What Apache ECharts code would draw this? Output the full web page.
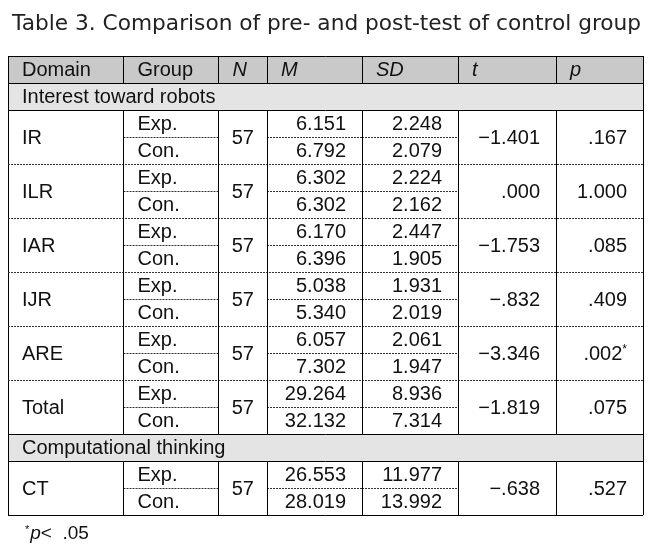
<!DOCTYPE html>
<html><head><meta charset="utf-8">
<script src="https://cdn.jsdelivr.net/npm/echarts@6/dist/echarts.min.js"></script>
<style>html,body{margin:0;padding:0;background:#fff}#c{width:660px;height:548px}</style>
</head><body><div id="c"></div>
<script>
// ---- data ----
const title = 'Table 3. Comparison of pre- and post-test of control group';
const headers = ['Domain', 'Group', 'N', 'M', 'SD', 't', 'p'];
const sections = ['Interest toward robots', 'Computational thinking'];
const domains = ['IR', 'ILR', 'IAR', 'IJR', 'ARE', 'Total', 'CT'];
const domainSection = [0, 0, 0, 0, 0, 0, 1];
const groups = ['Exp.', 'Con.'];
const nValues = [57, 57, 57, 57, 57, 57, 57];
const meanExp = [6.151, 6.302, 6.170, 5.038, 6.057, 29.264, 26.553];
const meanCon = [6.792, 6.302, 6.396, 5.340, 7.302, 32.132, 28.019];
const sdExp = [2.248, 2.224, 2.447, 1.931, 2.061, 8.936, 11.977];
const sdCon = [2.079, 2.162, 1.905, 2.019, 1.947, 7.314, 13.992];
const tValues = [-1.401, 0.000, -1.753, -0.832, -3.346, -1.819, -0.638];
const pValues = [0.167, 1.000, 0.085, 0.409, 0.002, 0.075, 0.527];
const alpha = 0.05;
const footnoteMark = '*';
const footnoteP = 'p';
const footnoteRest = '<  .05';

// ---- layout (table-width units along x, row units along y) ----
const colEdges = [0, 115.5, 210.5, 259, 354, 450, 548, 635];
const FONT = 'Liberation Sans';
const FS = 20;
const HEAD_FILL = '#c9c9c9';
const SEC_FILL = '#e4e4e4';

function fmt3(v) {
  const a = Math.abs(v).toFixed(3).replace(/^0\./, '.');
  return (v < 0 ? '\u2212' : '') + a;
}

// build cell + line structures
const cells = [];
const lines = [];
headers.forEach((h, c) => cells.push({c0: c, c1: c + 1, r0: 0, r1: 1, text: h, align: 'left', italic: c >= 2, fill: HEAD_FILL}));
let r = 1;
const totalRows = 1 + sections.length + domains.length * 2;
lines.push([0, 0, 7, 0, 0]);
lines.push([0, 1, 7, 1, 0]);
lines.push([0, 0, 0, totalRows, 0]);
lines.push([7, 0, 7, totalRows, 0]);
for (let c = 1; c < 7; c++) lines.push([c, 0, c, 1, 0]);
sections.forEach((sec, s) => {
  cells.push({c0: 0, c1: 7, r0: r, r1: r + 1, text: sec, align: 'left', fill: SEC_FILL});
  lines.push([0, r, 7, r, 0]);
  lines.push([0, r + 1, 7, r + 1, 0]);
  const blockStart = r + 1;
  r += 1;
  let first = true;
  domains.forEach((d, i) => {
    if (domainSection[i] !== s) return;
    if (!first) lines.push([0, r, 7, r, 1]);
    first = false;
    cells.push({c0: 0, c1: 1, r0: r, r1: r + 2, text: d, align: 'left'});
    cells.push({c0: 1, c1: 2, r0: r, r1: r + 1, text: groups[0], align: 'left'});
    cells.push({c0: 1, c1: 2, r0: r + 1, r1: r + 2, text: groups[1], align: 'left'});
    cells.push({c0: 2, c1: 3, r0: r, r1: r + 2, text: String(nValues[i]), align: 'center'});
    cells.push({c0: 3, c1: 4, r0: r, r1: r + 1, text: meanExp[i].toFixed(3), align: 'right'});
    cells.push({c0: 3, c1: 4, r0: r + 1, r1: r + 2, text: meanCon[i].toFixed(3), align: 'right'});
    cells.push({c0: 4, c1: 5, r0: r, r1: r + 1, text: sdExp[i].toFixed(3), align: 'right'});
    cells.push({c0: 4, c1: 5, r0: r + 1, r1: r + 2, text: sdCon[i].toFixed(3), align: 'right'});
    cells.push({c0: 5, c1: 6, r0: r, r1: r + 2, text: fmt3(tValues[i]), align: 'right'});
    const pt = fmt3(pValues[i]);
    cells.push({c0: 6, c1: 7, r0: r, r1: r + 2, text: pValues[i] < alpha ? '{v|' + pt + '}{s|*}' : pt, align: 'right', rich: pValues[i] < alpha});
    [1, 3, 4].forEach(c => lines.push([c, r + 1, c + 1, r + 1, 1]));
    r += 2;
  });
  for (let c = 1; c < 7; c++) lines.push([c, blockStart, c, r, 0]);
});
lines.push([0, r, 7, r, 0]);

function renderCell(params, api) {
  const cell = cells[params.dataIndex];
  const p0 = api.coord([colEdges[cell.c0], cell.r0]);
  const p1 = api.coord([colEdges[cell.c1], cell.r1]);
  const x0 = p0[0], y0 = p0[1], x1 = p1[0], y1 = p1[1];
  const children = [];
  if (cell.fill) children.push({type: 'rect', shape: {x: x0, y: y0, width: x1 - x0, height: y1 - y0}, style: {fill: cell.fill}});
  let tx, al;
  if (cell.align === 'left') { tx = x0 + 14; al = 'left'; }
  else if (cell.align === 'center') { tx = (x0 + x1) / 2; al = 'center'; }
  else { tx = x1 - 16; al = 'right'; }
  const style = {text: cell.text, x: tx, y: (y0 + y1) / 2 + 1, align: al, verticalAlign: 'middle',
    fontFamily: FONT, fontSize: FS, fontStyle: cell.italic ? 'italic' : 'normal', fill: '#111'};
  if (cell.rich) {
    style.rich = {v: {fontFamily: FONT, fontSize: FS, fill: '#111'}, s: {fontFamily: FONT, fontSize: 12, fill: '#111', verticalAlign: 'top', padding: [0, 0, 6, 0]}};
  }
  children.push({type: 'text', style: style});
  return {type: 'group', children: children};
}

function renderLine(params, api) {
  const l = lines[params.dataIndex];
  const a = api.coord([colEdges[l[0]], l[1]]);
  const b = api.coord([colEdges[l[2]], l[3]]);
  const snap = v => Math.round(v - 0.5) + 0.5;
  let x1 = a[0], y1 = a[1], x2 = b[0], y2 = b[1];
  if (y1 === y2) { y1 = y2 = snap(y1); } else { x1 = x2 = snap(x1); }
  return {type: 'line', shape: {x1: x1, y1: y1, x2: x2, y2: y2},
    style: {stroke: l[4] ? '#333' : '#000', lineWidth: 1, lineDash: l[4] ? [2, 1] : null}};
}

const chart = echarts.init(document.getElementById('c'), null, {renderer: 'canvas'});
chart.setOption({
  animation: false,
  backgroundColor: '#fff',
  title: [
    {text: title, left: 7, top: 8, textStyle: {fontFamily: 'DejaVu Sans', fontSize: 21.7, fontWeight: 'normal', color: '#222'}},
    {text: '{s|' + footnoteMark + '}{p|' + footnoteP + '}{n|' + footnoteRest + '}', left: 20, top: 519, textStyle: {fontWeight: 'normal', rich: {
      s: {fontFamily: FONT, fontSize: 11, fontWeight: 'normal', color: '#111', verticalAlign: 'top', padding: [0, 1, 8, 0]},
      p: {fontFamily: FONT, fontSize: 19, fontWeight: 'normal', fontStyle: 'italic', color: '#111'},
      n: {fontFamily: FONT, fontSize: 19, fontWeight: 'normal', color: '#111'}
    }}}
  ],
  grid: {left: 8, top: 56, width: 635, height: 459, show: false},
  xAxis: {type: 'value', min: 0, max: 635, show: false},
  yAxis: {type: 'value', min: 0, max: totalRows, inverse: true, show: false},
  series: [
    {type: 'custom', renderItem: renderCell, data: cells.map((c, i) => [i]), clip: false, z: 1, silent: true},
    {type: 'custom', renderItem: renderLine, data: lines.map((l, i) => [i]), clip: false, z: 2, silent: true}
  ]
});
</script>
</body></html>
